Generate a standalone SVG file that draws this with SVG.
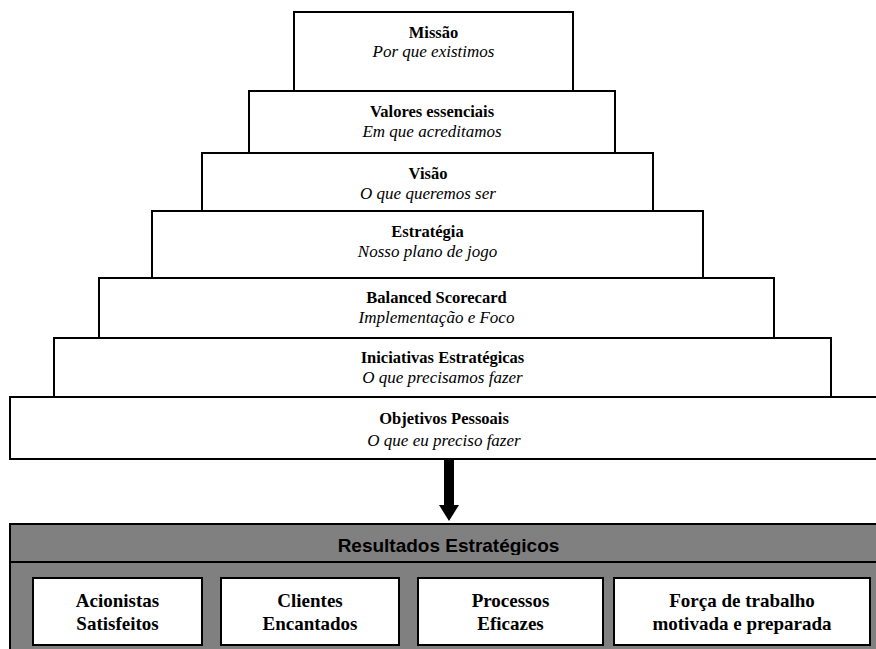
<svg xmlns="http://www.w3.org/2000/svg" width="876" height="649" viewBox="0 0 876 649">
<defs>
<style>
.box{fill:#fff;stroke:#000;stroke-width:2}
.t{font-family:'Liberation Serif','Times New Roman',Times,serif;font-size:16.5px;font-weight:bold;text-anchor:middle;fill:#000}
.s{font-family:'Liberation Serif','Times New Roman',Times,serif;font-size:17px;font-style:italic;text-anchor:middle;fill:#000}
.in{font-family:'Liberation Serif','Times New Roman',Times,serif;font-size:19px;font-weight:bold;text-anchor:middle;fill:#000}
.title{font-family:'Liberation Sans',Arial,sans-serif;font-size:19px;font-weight:bold;text-anchor:middle;fill:#000}
</style>
<marker id="ah" markerUnits="userSpaceOnUse" markerWidth="20" markerHeight="16" refX="10" refY="0" orient="0" viewBox="0 0 20 16" overflow="visible">
<path d="M0,0 L20,0 L10,16 Z" fill="#000"/>
</marker>
<clipPath id="tc"><rect x="10" y="524" width="866" height="31"/></clipPath>
</defs>
<rect width="876" height="649" fill="#fff"/>
<g id="objetivos"><rect class="box" x="10" y="397" width="880" height="62"/><text class="t" x="444" y="424">Objetivos Pessoais</text><text class="s" x="444" y="446">O que eu preciso fazer</text></g>
<g id="iniciativas"><rect class="box" x="54" y="338" width="777" height="59"/><text class="t" x="442.5" y="363">Iniciativas Estratégicas</text><text class="s" x="442.5" y="383">O que precisamos fazer</text></g>
<g id="balanced"><rect class="box" x="99" y="278" width="675" height="60"/><text class="t" x="436.5" y="303">Balanced Scorecard</text><text class="s" x="436.5" y="323">Implementação e Foco</text></g>
<g id="estrategia"><rect class="box" x="152" y="211" width="551" height="67"/><text class="t" x="427.5" y="237">Estratégia</text><text class="s" x="427.5" y="257">Nosso plano de jogo</text></g>
<g id="visao"><rect class="box" x="202" y="153" width="451" height="58"/><text class="t" x="428" y="179">Visão</text><text class="s" x="428" y="199">O que queremos ser</text></g>
<g id="valores"><rect class="box" x="249" y="91" width="366" height="62"/><text class="t" x="432" y="117">Valores essenciais</text><text class="s" x="432" y="137">Em que acreditamos</text></g>
<g id="missao"><rect class="box" x="294" y="12" width="279" height="79"/><text class="t" x="433.5" y="38">Missão</text><text class="s" x="433.5" y="57">Por que existimos</text></g>
<g id="connectors">
<line x1="449" y1="460" x2="449" y2="505" stroke="#000" stroke-width="10" marker-end="url(#ah)"/>
</g>
<g id="resultados">
<rect x="10" y="524" width="880" height="140" fill="#808080" stroke="#000" stroke-width="2"/>
<line x1="10" y1="562" x2="876" y2="562" stroke="#000" stroke-width="2"/>
<text class="title" x="448.5" y="552" clip-path="url(#tc)">Resultados Estratégicos</text>
</g>
<g id="acionistas"><rect class="box" x="33" y="578" width="169" height="67"/><text class="in" x="117.5" y="607">Acionistas</text><text class="in" x="117.5" y="630">Satisfeitos</text></g>
<g id="clientes"><rect class="box" x="221" y="578" width="178" height="67"/><text class="in" x="310" y="607">Clientes</text><text class="in" x="310" y="630">Encantados</text></g>
<g id="processos"><rect class="box" x="418" y="578" width="185" height="67"/><text class="in" x="510.5" y="607">Processos</text><text class="in" x="510.5" y="630">Eficazes</text></g>
<g id="forca"><rect class="box" x="614" y="578" width="256" height="67"/><text class="in" x="742" y="607">Força de trabalho</text><text class="in" x="742" y="630">motivada e preparada</text></g>
</svg>
